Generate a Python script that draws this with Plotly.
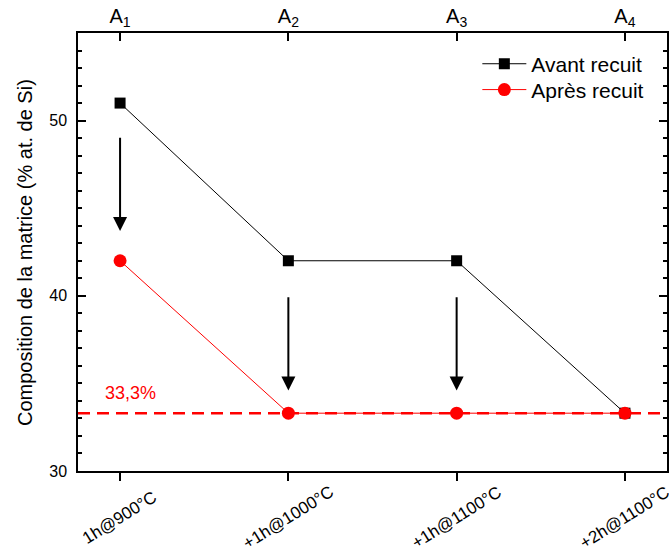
import plotly.graph_objects as go

# ---- data ----
categories = ["1h@900°C", "+1h@1000°C", "+1h@1100°C", "+2h@1100°C"]
top_labels = ["A<sub>1</sub>", "A<sub>2</sub>", "A<sub>3</sub>", "A<sub>4</sub>"]
avant = [51.0, 42.0, 42.0, 33.3]
apres = [42.0, 33.3, 33.3, 33.3]
stoich = 33.3
stoich_label = "33,3%"
arrow_start = [49.1, 40.0, 40.0]
arrow_end = [43.7, 34.6, 34.6]

xpos = list(range(len(categories)))
FONT = "Liberation Sans, Arial, sans-serif"

fig = go.Figure()

fig.add_hline(y=stoich, line=dict(color="#FF0000", width=2.5, dash="12px,7px"), layer="below")

fig.add_trace(go.Scatter(
    x=xpos, y=avant, mode="lines+markers", name="Avant recuit", legend="legend",
    line=dict(color="black", width=1),
    marker=dict(symbol="square", size=11, color="black"),
))
fig.add_trace(go.Scatter(
    x=xpos, y=apres, mode="lines+markers", name="Après recuit", legend="legend2",
    line=dict(color="#FF0000", width=1),
    marker=dict(symbol="circle", size=13, color="#FF0000"),
))
# invisible trace to activate the top axis
fig.add_trace(go.Scatter(x=xpos, y=apres, xaxis="x2", mode="markers",
                         marker=dict(opacity=0), showlegend=False, hoverinfo="skip"))

annotations = []
for i, (s, e) in enumerate(zip(arrow_start, arrow_end)):
    annotations.append(dict(
        x=xpos[i], y=e, ax=xpos[i], ay=s, xref="x", yref="y", axref="x", ayref="y",
        showarrow=True, arrowhead=2, arrowsize=1.4, arrowwidth=2, arrowcolor="black", text="",
    ))
annotations.append(dict(x=0.06, y=34.45, xref="x", yref="y", text=stoich_label, showarrow=False,
                        font=dict(family=FONT, size=18, color="#FF0000")))
for i, lab in enumerate(categories):
    annotations.append(dict(x=xpos[i], y=-0.107, xref="x", yref="paper", text=lab, showarrow=False,
                            textangle=-32, xanchor="center", yanchor="middle",
                            font=dict(family=FONT, size=17, color="black")))
annotations.append(dict(x=-0.09, y=0.5, xref="paper", yref="paper",
                        text="Composition de la matrice (% at. de Si)", showarrow=False,
                        textangle=-90, xanchor="center", yanchor="middle",
                        font=dict(family=FONT, size=20, color="black")))

legend_common = dict(xanchor="left", yanchor="middle", font=dict(family=FONT, size=21),
                     bgcolor="rgba(0,0,0,0)", itemwidth=44)

fig.update_layout(
    width=669, height=554,
    margin=dict(l=78, r=2, t=33, b=83, autoexpand=False),
    paper_bgcolor="white", plot_bgcolor="white",
    font=dict(family=FONT, size=16, color="black"),
    showlegend=True,
    legend=dict(x=0.678, y=0.929, **legend_common),
    legend2=dict(x=0.678, y=0.870, **legend_common),
    annotations=annotations,
    xaxis=dict(range=[-0.25, 3.25], tickvals=xpos, showticklabels=False, automargin=False,
               ticks="outside", ticklen=8, tickwidth=1.5, tickcolor="black",
               showline=True, linecolor="black", linewidth=1.5, showgrid=False, zeroline=False),
    xaxis2=dict(range=[-0.25, 3.25], overlaying="x", side="top", anchor="y", automargin=False,
                tickvals=xpos, ticktext=top_labels, ticks="inside", ticklen=8, tickwidth=1.5,
                tickcolor="black", tickfont=dict(family=FONT, size=20),
                showline=True, linecolor="black", linewidth=1.5, showgrid=False, zeroline=False),
    yaxis=dict(range=[30, 55], tickvals=[30, 40, 50], ticks="inside", ticklen=8, tickwidth=1.5,
               tickcolor="black", showline=True, linecolor="black", linewidth=1.5, automargin=False,
               mirror="ticks", showgrid=False, zeroline=False,
               tickfont=dict(family=FONT, size=16), ticklabelstandoff=6,
               minor=dict(dtick=1, tick0=30, ticks="inside", ticklen=4, tickwidth=1.5, tickcolor="black",
                          showgrid=False)),
)

fig.write_html("out.html", config={"displayModeBar": False},
               post_script="document.body.style.margin='0';")
